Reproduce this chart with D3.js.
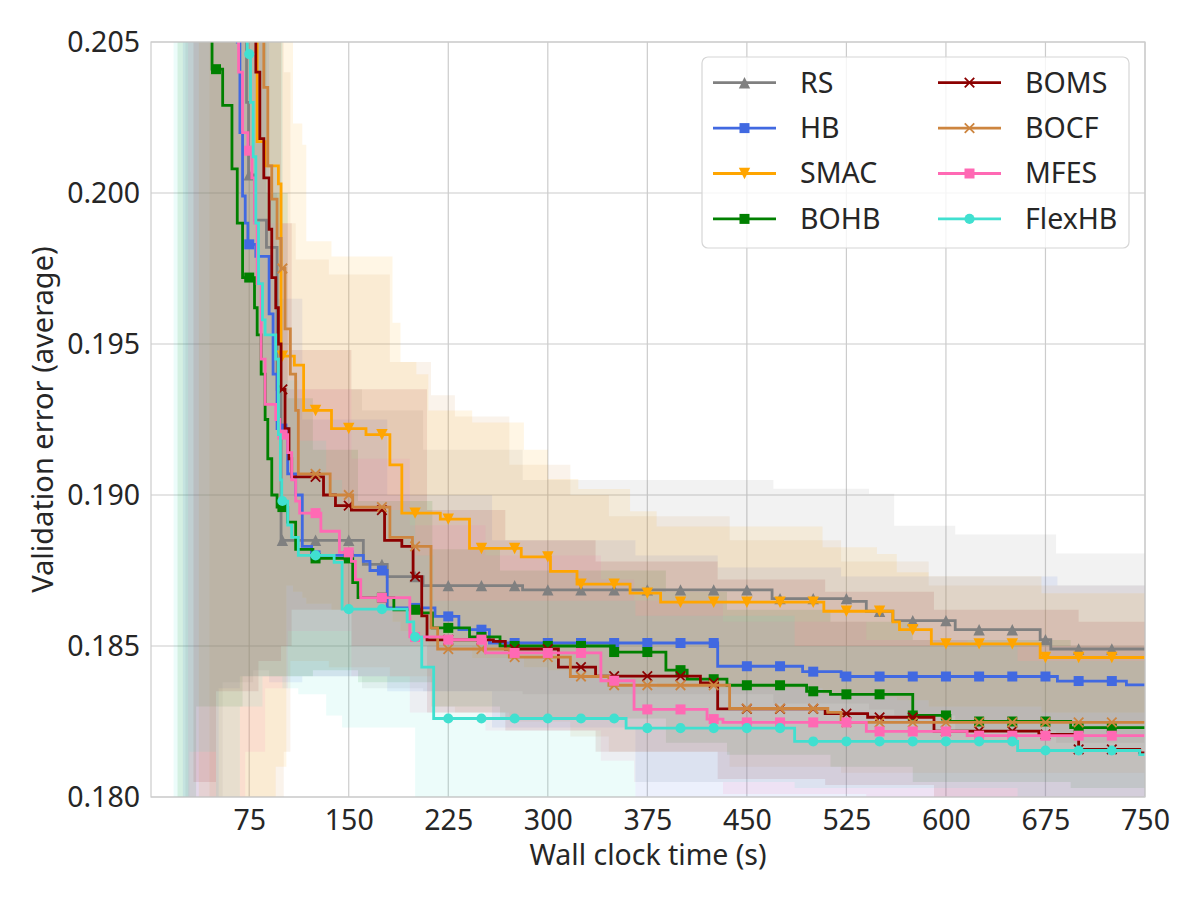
<!DOCTYPE html>
<html>
<head>
<meta charset="utf-8">
<script src="https://d3js.org/d3.v7.min.js"></script>
<style>
  body { margin: 0; background: #fff; }
  text { font-family: "Noto Sans", "Open Sans", sans-serif; fill: #262626; }
</style>
</head>
<body>
<div id="chart-container"></div>
<script>
// Mean curves, [time (s), validation error] - step after each point
var rsLine = [[27,0.26],[55,0.225],[65,0.212],[70,0.207],[73,0.2030],[74.5,0.2006],[79,0.1991],[88,0.1982],[96,0.1935],[99,0.1885],[161,0.1877],[179,0.1873],[206,0.1870],[281,0.18686],[469,0.18657],[528,0.18648],[540,0.18615],[560,0.18584],[607,0.18554],[671,0.18521],[679,0.18490]];
var hbLine = [[25,0.26],[55,0.215],[63,0.208],[66,0.2050],[68,0.2020],[70,0.1999],[72,0.1990],[74,0.1983],[80,0.1979],[90,0.1960],[93,0.1940],[96,0.1922],[104,0.1907],[110,0.1900],[115,0.1883],[122,0.1880],[161,0.1878],[166,0.1875],[179,0.18626],[215,0.18598],[233,0.18554],[256,0.18510],[428,0.18433],[492,0.18415],[521,0.18399],[684,0.18384],[736,0.18371]];
var smacLine = [[37,0.26],[70,0.22],[78,0.2075],[81,0.2017],[87,0.2009],[97,0.2003],[99,0.1946],[109,0.1943],[116,0.1928],[137,0.1922],[163,0.1920],[181,0.1910],[190,0.1894],[219,0.1892],[241,0.18823],[280,0.18795],[302,0.18747],[322,0.18705],[362,0.18675],[385,0.18645],[508,0.18615],[560,0.18580],[565,0.18554],[589,0.18507],[671,0.18462]];
var bohbLine = [[21,0.26],[40,0.215],[45,0.207],[47,0.2041],[55,0.2029],[62,0.2008],[66,0.1990],[70,0.1972],[79,0.1962],[81,0.1953],[84,0.1940],[87,0.1925],[89,0.1912],[92,0.1900],[96,0.1896],[104,0.1891],[110,0.1882],[123,0.1879],[153,0.1871],[157,0.1866],[184,0.1862],[205,0.1861],[213,0.1856],[241,0.1853],[264,0.1850],[350,0.1848],[389,0.1842],[405,0.1839],[435,0.1837],[495,0.1835],[513,0.1834],[575,0.1827],[603,0.1825],[694,0.1823]];
var bomsLine = [[33,0.26],[65,0.215],[76,0.207],[80,0.2040],[83,0.2018],[86,0.2005],[90,0.1988],[92,0.1972],[95,0.1962],[97,0.1950],[99,0.1935],[102,0.1922],[105,0.1912],[107,0.1906],[131,0.1900],[140,0.18965],[152,0.1895],[177,0.1885],[190,0.1883],[198.5,0.1873],[205,0.1860],[209,0.1852],[259,0.18515],[268,0.18490],[308,0.18430],[336,0.18400],[415,0.18378],[428,0.18292],[509,0.18276],[541,0.18264],[591,0.18218],[670,0.18207],[700,0.18158],[746,0.18146]];
var bocfLine = [[45,0.26],[70,0.215],[82,0.207],[86,0.2035],[89,0.2009],[92,0.1998],[96,0.1985],[99,0.1975],[102,0.1955],[106,0.1940],[110,0.1928],[112,0.1907],[136,0.1900],[153,0.1896],[181,0.1886],[198,0.1883],[212,0.1856],[217,0.1849],[271,0.18463],[317,0.18399],[346,0.18370],[437,0.18293],[511,0.18280],[521,0.18247]];
var mfesLine = [[29,0.26],[58,0.215],[64,0.207],[67,0.2040],[70,0.2020],[74,0.2014],[77,0.2005],[79,0.1990],[81,0.1970],[84,0.1945],[87,0.1930],[95,0.1925],[98,0.1920],[104,0.1914],[107,0.1905],[110,0.1898],[113,0.1894],[129,0.1888],[143,0.1881],[152,0.1878],[155,0.1872],[159,0.1866],[196,0.1853],[224,0.18521],[253,0.18477],[340,0.18385],[365,0.18290],[420,0.18258],[432,0.18247],[540,0.18217],[616,0.18203]];
var flexLine = [[18,0.26],[55,0.22],[70,0.208],[73.5,0.2046],[76,0.2030],[78,0.2012],[80,0.1990],[82,0.1970],[85,0.1958],[87,0.1953],[95,0.1945],[97,0.1920],[98.5,0.1905],[99.5,0.1898],[104,0.1890],[107,0.1886],[112,0.1880],[139,0.18777],[145,0.18622],[194,0.1858],[199,0.1853],[205,0.1843],[214,0.18260],[359,0.18228],[486,0.18184],[654,0.18154],[746,0.18140]];

// Shaded spread, [time, lower, upper]
var rsBand = [[27,0.1785,0.250],[55,0.1838,0.245],[78,0.1842,0.225],[90,0.1840,0.212],[100,0.1840,0.1935],[160,0.1836,0.1928],[206,0.1835,0.1915],[281,0.1834,0.1905],[470,0.1831,0.19021],[542,0.1829,0.19004],[561,0.1827,0.18898],[607,0.1822,0.18869],[683,0.1818,0.18806]];
var hbBand = [[25,0.1780,0.250],[52,0.1836,0.245],[68,0.1840,0.222],[90,0.1838,0.200],[96,0.1838,0.1965],[115,0.1840,0.1925],[179,0.1835,0.1900],[258,0.1823,0.1885],[366,0.1797,0.1880],[428,0.1795,0.1876],[521,0.1797,0.1873],[684,0.1797,0.1870]];
var smacBand = [[37,0.150,0.250],[80,0.1790,0.240],[95,0.1810,0.215],[103,0.1870,0.2060],[108,0.1868,0.2023],[115,0.1866,0.2016],[118,0.1864,0.1984],[137,0.1862,0.1979],[183,0.1858,0.1957],[189,0.1855,0.1944],[201,0.1852,0.1940],[210,0.1850,0.1928],[243,0.1846,0.1924],[282,0.1843,0.1915],[300,0.1842,0.19053],[323,0.1840,0.1902],[362,0.1838,0.18946],[382,0.1836,0.18896],[507,0.1834,0.18827],[548,0.1833,0.18805],[563,0.1832,0.18744],[587,0.1830,0.18731],[672,0.1828,0.18675]];
var bohbBand = [[21,0.150,0.250],[35,0.1830,0.245],[70,0.1840,0.222],[88,0.1840,0.200],[104,0.1840,0.1932],[123,0.1842,0.1915],[157,0.1838,0.1898],[213,0.1830,0.1882],[264,0.1826,0.1875],[389,0.1818,0.1868],[435,0.1814,0.1862],[513,0.1810,0.1858],[575,0.1805,0.1852],[694,0.1803,0.1850]];
var bomsBand = [[33,0.1805,0.250],[50,0.1835,0.245],[82,0.1845,0.222],[99,0.1850,0.1990],[107,0.1862,0.1948],[152,0.1850,0.1935],[209,0.1828,0.1895],[268,0.1822,0.1885],[336,0.1815,0.1878],[428,0.1806,0.1872],[509,0.1804,0.1868],[591,0.1796,0.1862],[700,0.1793,0.1858]];
var bocfBand = [[45,0.150,0.250],[85,0.1795,0.235],[101,0.1815,0.2040],[106,0.1845,0.1990],[110,0.1845,0.1978],[135,0.1843,0.1973],[181,0.1840,0.1944],[212,0.1830,0.1933],[230,0.1828,0.1926],[271,0.1825,0.1910],[317,0.1820,0.1900],[346,0.1815,0.1893],[437,0.1810,0.1885],[521,0.1808,0.1878],[587,0.1808,0.1870]];
var mfesBand = [[29,0.1790,0.250],[45,0.1800,0.245],[60,0.1795,0.235],[72,0.1815,0.222],[87,0.1836,0.1990],[104,0.1855,0.1935],[152,0.1840,0.1912],[196,0.1828,0.1890],[253,0.1822,0.1880],[340,0.1812,0.1872],[365,0.1805,0.1865],[432,0.1801,0.1858],[540,0.1800,0.1852],[616,0.1797,0.1850]];
var flexBand = [[18,0.150,0.250],[30,0.1815,0.245],[50,0.1790,0.235],[68,0.1830,0.222],[85,0.1840,0.205],[100,0.1836,0.1938],[112,0.1834,0.1918],[133,0.1827,0.1905],[145,0.1823,0.1895],[200,0.1790,0.1880],[214,0.1788,0.1865],[366,0.1805,0.1860],[486,0.1803,0.1850],[654,0.1800,0.1845]];

var methods = ["RS", "HB", "SMAC", "BOHB", "BOMS", "BOCF", "MFES", "FlexHB"];
var colors = ["#808080", "#4169e1", "#ffa500", "#008000", "#8b0000", "#cd853f", "#ff69b4", "#40e0d0"];
var shapes = ["triUp", "square", "triDown", "square", "x", "x", "square", "circle"];
var lines = [rsLine, hbLine, smacLine, bohbLine, bomsLine, bocfLine, mfesLine, flexLine];
var bands = [rsBand, hbBand, smacBand, bohbBand, bomsBand, bocfBand, mfesBand, flexBand];

var xTicks = [75, 150, 225, 300, 375, 450, 525, 600, 675, 750];
var yTicks = [0.180, 0.185, 0.190, 0.195, 0.200, 0.205];
var markTimes = [25, 50, 75, 100, 125, 150, 175, 200, 225, 250, 275, 300, 325, 350, 375, 400, 425, 450, 475, 500, 525, 550, 575, 600, 625, 650, 675, 700, 725];
var tMin = 1, tMax = 750;

// Set the dimensions and margins of the chart
var margin = { top: 42, right: 55, bottom: 103, left: 151 },
  width = 1200 - margin.left - margin.right,
  height = 900 - margin.top - margin.bottom;

var svg = d3.select("#chart-container")
  .append("svg")
  .attr("width", 1200)
  .attr("height", 900)
  .append("g")
  .attr("transform", "translate(" + margin.left + "," + margin.top + ")");

var xScale = d3.scaleLinear().domain([tMin, tMax]).range([0, width]);
var yScale = d3.scaleLinear().domain([0.180, 0.205]).range([height, 0]);

svg.append("clipPath").attr("id", "plot-clip")
  .append("rect").attr("width", width).attr("height", height);

// Grid
var grid = svg.append("g").attr("stroke", "#cccccc").attr("stroke-width", 1.2);
grid.selectAll(".vg").data(xTicks).enter().append("line")
  .attr("x1", function(d) { return xScale(d); }).attr("x2", function(d) { return xScale(d); })
  .attr("y1", 0).attr("y2", height);
grid.selectAll(".hg").data(yTicks).enter().append("line")
  .attr("y1", function(d) { return yScale(d); }).attr("y2", function(d) { return yScale(d); })
  .attr("x1", 0).attr("x2", width);

var plot = svg.append("g").attr("clip-path", "url(#plot-clip)");

// Carry the last step out to the right edge
function extend(arr) {
  var last = arr[arr.length - 1];
  return arr.concat([[tMax].concat(last.slice(1))]);
}

function valueAt(arr, t) {
  var v = null;
  arr.forEach(function(p) { if (p[0] <= t) v = p[1]; });
  return v;
}

var area = d3.area()
  .curve(d3.curveStepAfter)
  .x(function(d) { return xScale(d[0]); })
  .y0(function(d) { return yScale(d[1]); })
  .y1(function(d) { return yScale(d[2]); });

var line = d3.line()
  .curve(d3.curveStepAfter)
  .x(function(d) { return xScale(d[0]); })
  .y(function(d) { return yScale(d[1]); });

bands.forEach(function(b, i) {
  plot.append("path")
    .datum(extend(b))
    .attr("d", area)
    .attr("fill", colors[i])
    .attr("fill-opacity", 0.1);
});

// Marker shapes
var symbolTypes = {
  triUp: { draw: function(ctx, size) { var r = Math.sqrt(size) / 2;
    ctx.moveTo(0, -r); ctx.lineTo(r, r); ctx.lineTo(-r, r); ctx.closePath(); } },
  triDown: { draw: function(ctx, size) { var r = Math.sqrt(size) / 2;
    ctx.moveTo(0, r); ctx.lineTo(r, -r); ctx.lineTo(-r, -r); ctx.closePath(); } },
  square: d3.symbolSquare,
  circle: d3.symbolCircle,
  x: { draw: function(ctx, size) { var r = Math.sqrt(size) / 2;
    ctx.moveTo(-r, -r); ctx.lineTo(r, r); ctx.moveTo(-r, r); ctx.lineTo(r, -r); } }
};
var symbolSizes = { triUp: 130, triDown: 130, square: 100, circle: 80, x: 90 };

function drawMarker(g, shape, color, x, y) {
  var p = g.append("path")
    .attr("transform", "translate(" + x + "," + y + ")")
    .attr("d", d3.symbol().type(symbolTypes[shape]).size(symbolSizes[shape])());
  if (shape === "x") p.attr("fill", "none").attr("stroke", color).attr("stroke-width", 1.8);
  else p.attr("fill", color);
}

lines.forEach(function(l, i) {
  plot.append("path")
    .datum(extend(l))
    .attr("d", line)
    .attr("fill", "none")
    .attr("stroke", colors[i])
    .attr("stroke-width", 2.8);

  markTimes.forEach(function(t) {
    var v = valueAt(l, t);
    if (v === null || v > 0.2056) return;
    drawMarker(plot, shapes[i], colors[i], xScale(t), yScale(v));
  });
});

// Frame
svg.append("rect")
  .attr("width", width).attr("height", height)
  .attr("fill", "none").attr("stroke", "#cccccc").attr("stroke-width", 1.2);

// Axes
var xAxis = svg.append("g")
  .attr("transform", "translate(0," + height + ")")
  .call(d3.axisBottom(xScale).tickValues(xTicks).tickSize(0).tickPadding(12.5).tickFormat(d3.format("d")));
var yAxis = svg.append("g")
  .call(d3.axisLeft(yScale).tickValues(yTicks).tickSize(0).tickPadding(11).tickFormat(d3.format(".3f")));
[xAxis, yAxis].forEach(function(a) {
  a.select(".domain").remove();
  a.selectAll("text").attr("font-size", 28.5).attr("font-family", null).style("fill", "#262626");
});

svg.append("text")
  .attr("x", width / 2).attr("y", 823)
  .attr("text-anchor", "middle").attr("font-size", 28.5)
  .text("Wall clock time (s)");

svg.append("text")
  .attr("transform", "rotate(-90)")
  .attr("x", -height / 2).attr("y", -98.5)
  .attr("text-anchor", "middle").attr("font-size", 29)
  .text("Validation error (average)");

// Legend
var legend = svg.append("g").attr("transform", "translate(" + (702 - margin.left) + "," + (57 - margin.top) + ")");
legend.append("rect")
  .attr("width", 427).attr("height", 191).attr("rx", 6)
  .attr("fill", "#ffffff").attr("fill-opacity", 0.8)
  .attr("stroke", "#d6d6d6").attr("stroke-width", 1.2);

methods.forEach(function(m, i) {
  var col = Math.floor(i / 4), row = i % 4;
  var gx = 11 + col * 225, gy = 25.7 + row * 45.4;
  var g = legend.append("g").attr("transform", "translate(" + gx + "," + gy + ")");
  g.append("line").attr("x1", 0).attr("x2", 63).attr("y1", 0).attr("y2", 0)
    .attr("stroke", colors[i]).attr("stroke-width", 2.8);
  drawMarker(g, shapes[i], colors[i], 31.5, 0);
  g.append("text").attr("x", 87).attr("y", 0).attr("dy", "0.35em")
    .attr("font-size", 28.5).text(m);
});
</script>
</body>
</html>
